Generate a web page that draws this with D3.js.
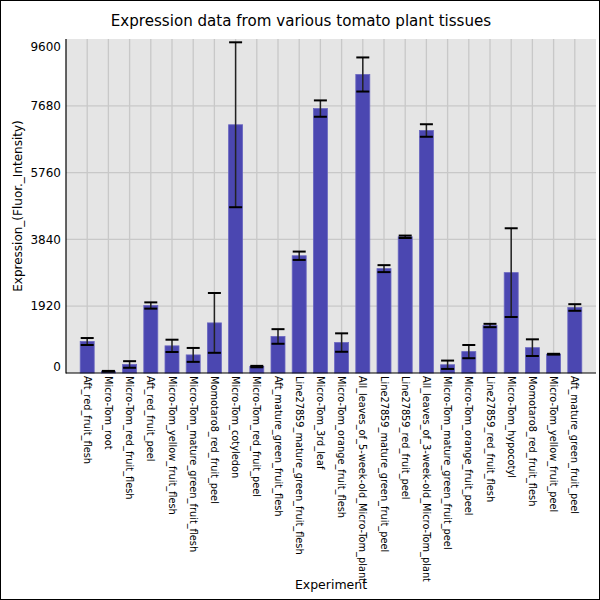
<!DOCTYPE html>
<html>
<head>
<meta charset="utf-8">
<script src="https://cdn.jsdelivr.net/npm/d3@7"></script>
<style>
  html, body { margin: 0; padding: 0; background: #fff; }
  svg { display: block; font-family: "DejaVu Sans", sans-serif; }
</style>
</head>
<body>
<svg id="chart" width="600" height="600"></svg>
<script>
const categories = [
  "Aft_red_fruit_flesh",
  "Micro-Tom_root",
  "Micro-Tom_red_fruit_flesh",
  "Aft_red_fruit_peel",
  "Micro-Tom_yellow_fruit_flesh",
  "Micro-Tom_mature_green_fruit_flesh",
  "Momotaro8_red_fruit_peel",
  "Micro-Tom_cotyledon",
  "Micro-Tom_red_fruit_peel",
  "Aft_mature_green_fruit_flesh",
  "Line27859_mature_green_fruit_flesh",
  "Micro-Tom_3rd_leaf",
  "Micro-Tom_orange_fruit_flesh",
  "All_leaves_of_5-week-old_Micro-Tom_plant",
  "Line27859_mature_green_fruit_peel",
  "Line27859_red_fruit_peel",
  "All_leaves_of_3-week-old_Micro-Tom_plant",
  "Micro-Tom_mature_green_fruit_peel",
  "Micro-Tom_orange_fruit_peel",
  "Line27859_red_fruit_flesh",
  "Micro-Tom_hypocotyl",
  "Momotaro8_red_fruit_flesh",
  "Micro-Tom_yellow_fruit_peel",
  "Aft_mature_green_fruit_peel"
];
const means = [905, 50, 245, 1940, 780, 520, 1440, 7135, 185, 1050, 3370, 7600,
               875, 8580, 3000, 3915, 6970, 237, 615, 1365, 2885, 728, 540, 1883];
const errors = [100, 10, 95, 90, 177, 200, 860, 2370, 20, 210, 120, 235,
                265, 490, 100, 35, 180, 120, 190, 48, 1275, 240, 12, 95];
const yTicks = [0, 1920, 3840, 5760, 7680, 9600];
const yDomain = [0, 9600];

const title = "Expression data from various tomato plant tissues";
const xTitle = "Experiment";
const yTitle = "Expression_(Fluor._Intensity)";

const svg = d3.select("#chart");
const W = 600, H = 600;
const plot = { left: 66, right: 596, top: 39, bottom: 373 };

svg.append("rect").attr("x", 0.5).attr("y", 0.5).attr("width", W - 1).attr("height", H - 1)
  .attr("fill", "#fff").attr("stroke", "#000").attr("stroke-width", 1);

const x = d3.scalePoint().domain(categories).range([plot.left, plot.right]).padding(1);
const y = d3.scaleLinear().domain(yDomain).range([plot.bottom, plot.top]);

// plot background
svg.append("rect").attr("x", plot.left).attr("y", plot.top)
  .attr("width", plot.right - plot.left).attr("height", plot.bottom - plot.top)
  .attr("fill", "#e5e5e5");

// grid
const grid = svg.append("g").attr("stroke", "#c8c8c8").attr("stroke-width", 1.3);
grid.selectAll("line.h").data(yTicks.filter(t => t > yDomain[0] && t < yDomain[1])).join("line")
  .attr("x1", plot.left).attr("x2", plot.right)
  .attr("y1", d => y(d)).attr("y2", d => y(d));
grid.selectAll("line.v").data(categories).join("line")
  .attr("x1", d => x(d)).attr("x2", d => x(d))
  .attr("y1", plot.top).attr("y2", plot.bottom);

// bars
const barW = 14;
const data = categories.map((c, i) => ({ c, m: means[i], e: errors[i] }));
svg.append("g").selectAll("rect").data(data).join("rect")
  .attr("x", d => x(d.c) - barW / 2)
  .attr("width", barW)
  .attr("y", d => y(d.m))
  .attr("height", d => y(0) - y(d.m))
  .attr("fill", "#4b47b1")
  .attr("stroke", "#6a67c0")
  .attr("stroke-width", 0.8);

// error bars
const eg = svg.append("g");
const capW = 13;
eg.selectAll("line.v").data(data).join("line")
  .attr("x1", d => x(d.c)).attr("x2", d => x(d.c))
  .attr("y1", d => y(d.m + d.e)).attr("y2", d => y(Math.max(0, d.m - d.e)))
  .attr("stroke", "#222").attr("stroke-width", 1.5);
eg.selectAll("line.top").data(data).join("line")
  .attr("x1", d => x(d.c) - capW / 2).attr("x2", d => x(d.c) + capW / 2)
  .attr("y1", d => y(d.m + d.e)).attr("y2", d => y(d.m + d.e))
  .attr("stroke", "#000").attr("stroke-width", 2);
eg.selectAll("line.bot").data(data).join("line")
  .attr("x1", d => x(d.c) - capW / 2).attr("x2", d => x(d.c) + capW / 2)
  .attr("y1", d => y(Math.max(0, d.m - d.e))).attr("y2", d => y(Math.max(0, d.m - d.e)))
  .attr("stroke", "#000").attr("stroke-width", 2);

// axes lines
svg.append("line").attr("x1", plot.left).attr("x2", plot.left)
  .attr("y1", plot.top).attr("y2", plot.bottom + 0.5).attr("stroke", "#000").attr("stroke-width", 1.2);
svg.append("line").attr("x1", plot.left).attr("x2", plot.right)
  .attr("y1", plot.bottom).attr("y2", plot.bottom).attr("stroke", "#000").attr("stroke-width", 1.2);

// y tick labels (clamped inside plot)
svg.append("g").selectAll("text").data(yTicks).join("text")
  .attr("x", 61)
  .attr("y", d => Math.min(plot.bottom - 6.5, Math.max(plot.top + 8, y(d))))
  .attr("dy", "0.35em")
  .attr("text-anchor", "end")
  .attr("font-size", 12)
  .attr("fill", "#000")
  .text(d => d);

// x tick labels
svg.append("g").selectAll("text").data(categories).join("text")
  .attr("transform", d => `translate(${x(d)},376) rotate(90)`)
  .attr("dy", "0.35em")
  .attr("text-anchor", "start")
  .attr("font-size", 9.8)
  .attr("fill", "#000")
  .text(d => d);

// titles
svg.append("text").attr("x", 301).attr("y", 26).attr("text-anchor", "middle")
  .attr("font-size", 15.1).attr("fill", "#000").text(title);
svg.append("text").attr("x", (plot.left + plot.right) / 2).attr("y", 589)
  .attr("text-anchor", "middle").attr("font-size", 12.5).attr("fill", "#000").text(xTitle);
svg.append("text").attr("transform", `translate(22,${(plot.top + plot.bottom) / 2}) rotate(-90)`)
  .attr("text-anchor", "middle").attr("font-size", 12).attr("fill", "#000").text(yTitle);
</script>
</body>
</html>
